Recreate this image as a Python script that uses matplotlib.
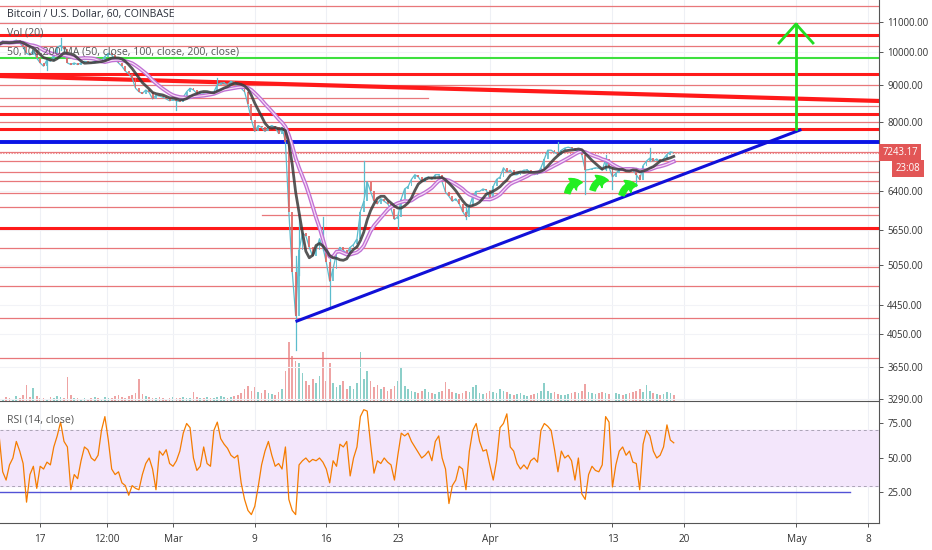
import numpy as np
import pandas as pd
import matplotlib
matplotlib.use("Agg")
import matplotlib.pyplot as plt
from matplotlib.patches import FancyArrowPatch
from matplotlib.ticker import NullLocator
from matplotlib.transforms import blended_transform_factory

plt.rcParams['font.family'] = ['Open Sans', 'DejaVu Sans']

# ---- data: 8-hour bars from Feb 13 00:00, time in days counted from Mar 1 ----
start_day = -17
bar_days = 1 / 3

close = [
    10250, 10350, 10300, 10280, 10330, 10380, 10300, 10150, 9950, 9900, 10050, 9800,
    9650, 9550, 9750, 9700, 9900, 10150, 10200, 10100, 9650, 9600, 9650, 9600,
    9650, 9700, 9680, 9650, 9700, 9680, 9720, 9850, 9950, 9900, 9750, 9650,
    9550, 9400, 9320, 9200, 8900, 8800, 8750, 8850, 8780, 8600, 8700, 8680,
    8650, 8600, 8550, 8580, 8550, 8530, 8650, 8800, 8900, 8850, 8750, 8780,
    8760, 8780, 8760, 8800, 9000, 9050, 9050, 9000, 9100, 9050, 8950, 8900,
    8800, 8450, 8050, 7750, 7900, 7850, 7750, 7850, 7900, 7850, 7700, 7850,
    7500, 6000, 4950, 4300, 5300, 5600, 5550, 5350, 5200, 5300, 5500, 5350,
    5100, 4800, 5000, 5250, 5350, 5300, 5250, 5350, 5400, 5500, 6000, 6200,
    6600, 6400, 6200, 6150, 6250, 6200, 6150, 6050, 5850, 5900, 6250, 6450,
    6500, 6650, 6750, 6700, 6600, 6680, 6700, 6650, 6750, 6750, 6600, 6380,
    6300, 6200, 6250, 6150, 6000, 5900, 6100, 6300, 6400, 6400, 6450, 6420,
    6250, 6500, 6650, 6700, 6900, 6800, 6850, 6750, 6750, 6800, 6850, 6850,
    6800, 6750, 6780, 6900, 7100, 7300, 7300, 7250, 7200, 7300, 7350, 7370,
    7350, 7300, 7300, 7200, 6850, 6860, 6880, 6900, 6890, 6850, 7100, 6910,
    6700, 6780, 6860, 6850, 6900, 6880, 6850, 6750, 6640, 6950, 7050, 7120,
    7050, 7100, 7030, 7100, 7200, 7260, 7243.17,
]

rsi = [
    65, 40, 34, 45, 50, 62, 55, 46, 18, 38, 44, 28, 44, 42, 47, 45, 58, 66, 76, 62,
    58, 27, 38, 35, 48, 58, 56, 50, 48, 52, 70, 80, 63, 42, 38, 40, 32, 30, 23, 30,
    28, 27, 38, 46, 50, 42, 27, 55, 52, 56, 46, 44, 48, 55, 68, 75, 72, 50, 41, 44,
    58, 46, 44, 70, 76, 64, 60, 57, 52, 50, 52, 32, 20, 12, 9, 15, 29, 45, 55, 62,
    52, 44, 46, 42, 58, 20, 12, 9, 45, 48, 50, 47, 49, 48, 50, 47, 42, 32, 48, 44,
    60, 58, 62, 37, 50, 58, 80, 85, 84, 60, 39, 48, 46, 50, 47, 45, 34, 52, 68, 66,
    68, 62, 58, 54, 50, 52, 55, 48, 62, 66, 50, 42, 17, 30, 34, 44, 42, 27, 55, 70,
    75, 62, 55, 56, 45, 34, 48, 72, 75, 82, 58, 55, 46, 42, 45, 42, 48, 50, 47, 70,
    75, 73, 70, 56, 40, 55, 50, 52, 48, 34, 50, 24, 20, 38, 44, 41, 40, 45, 80, 76,
    29, 45, 55, 58, 52, 55, 47, 46, 27, 60, 70, 66, 55, 50, 52, 58, 74, 63, 61,
]

volume = [
    3, 2, 4, 3, 2, 5, 3, 6, 16, 4, 13, 5, 3,
    3, 2, 4, 3, 5, 4, 3, 24,
    6, 3, 3, 2, 3, 2, 3, 4, 3, 2, 4, 3, 3, 5, 6, 4, 3, 5, 6, 8,
    22, 7, 5, 4, 3, 3, 4, 3, 2, 3, 4, 3, 3, 4, 3, 3, 9,
    4, 3, 3, 4, 3, 3, 4, 5, 4, 3, 4, 5, 6,
    8, 12, 15, 10, 14, 9, 8, 11, 8, 7, 6,
    9, 12, 30, 59, 45, 40, 38, 28, 20, 16, 22, 18, 25, 49, 20, 38,
    18, 14, 16, 20, 12, 15, 12, 18, 49, 22,
    30, 20, 14, 16, 12, 14, 10, 12, 15, 20, 34, 15, 12,
    10, 9, 8, 10, 12, 9, 8, 7, 9, 10, 19,
    12, 9, 8, 7, 8, 10, 9, 14, 16, 8, 7, 8, 10, 9,
    8, 12, 10, 9, 7, 6, 7, 8, 6, 5, 6, 7, 8, 10, 18,
    10, 8, 9, 7, 6, 6, 7, 8, 9, 8, 10, 17, 9, 8, 7,
    8, 9, 8, 7, 12, 8, 7, 6, 7, 8, 9, 10, 12, 9, 16, 10, 8, 7, 6, 7, 9, 8, 6,
]

# notable wicks (bar index, low, high)
wick_idx = [14, 18, 52, 64, 87, 88, 95, 97, 107, 117, 137, 164, 172, 178, 180, 187, 191]
wick_low = [9430, 10050, 8300, 9000, 3850, 4900, 5300, 4400, 6300, 5700, 5850, 7250, 6350, 6850, 6450, 6500, 7050]
wick_high = [9750, 10450, 8600, 9200, 5200, 5950, 5900, 5150, 7050, 6000, 6150, 7500, 7200, 7200, 6900, 6900, 7350]

# drawn levels
thin_levels = [11578, 10965, 10187, 8993, 8409, 7989, 7259, 7052, 6809, 6615, 6376,
               6097, 5339, 5025, 4729, 4268, 3750]
thick_levels = [10552, 9315, 8196, 7813, 5684]
green_level = 9803
blue_level = 7494
short_levels = [(8626, -16.93, 25.0), (5934, 8.71, 69.1)]
sloped_line = [(-16.93, 9255), (69.08, 8545)]
trend_line = [(12.13, 4227), (61.35, 7787)]
target_arrow = [(60.96, 7813), (60.96, 10930)]
arrow_wings = [(59.30, 10286), (62.62, 10286)]
hooks = [((38.55, 6306), (40.31, 6573)), ((41.0, 6367), (42.86, 6615)),
         ((43.84, 6266), (45.69, 6511))]
last_price = 7243.17

price_ticks = [11000, 10000, 9000, 8000, 6400, 5650, 5050, 4450, 4050, 3650, 3290]
rsi_ticks = [75, 50, 25]
time_ticks = [-13, -6.5, 0, 8, 15, 22, 31, 43, 50, 61, 68]
time_labels = ['17', '12:00', 'Mar', '9', '16', '23', 'Apr', '13', '20', 'May', '8']

# ---- figure ----
fig = plt.figure(figsize=(9.32, 5.5), dpi=100)
ax = fig.add_axes([0, 0.2709, 0.9431, 0.7291])
rax = fig.add_axes([0, 0.0491, 0.9431, 0.2218])
vax = ax.twinx()

days = start_day + np.arange(len(close)) * bar_days
close_arr = np.array(close, dtype=float)
opens = np.concatenate([[close_arr[0]], close_arr[:-1]])
up = close_arr >= opens
up_c, dn_c = '#5bbccd', '#e0625f'
colors = np.where(up, up_c, dn_c)
vol_colors = np.where(up, '#8ccfc9', '#eea3a3')

xlim = (-16.93, 69.08)

# volume
vax.bar(days, volume, width=bar_days * 0.5, color=vol_colors, linewidth=0)
vax.set_ylim(0, max(volume) * 6.8)
vax.set_yticks([])
for s in vax.spines.values():
    s.set_visible(False)
ax.set_zorder(vax.get_zorder() + 1)
ax.patch.set_visible(False)

ax.set_yscale('log')
ax.set_ylim(3273, 11802)
ax.set_xlim(*xlim)

# grid
for t in time_ticks:
    ax.axvline(t, color='#eef0f5', lw=0.8, zorder=0)
    rax.axvline(t, color='#eef0f5', lw=0.8, zorder=0)
for p in price_ticks:
    ax.axhline(p, color='#f2f3f7', lw=0.8, zorder=0)

# levels
for lv in thin_levels:
    ax.axhline(lv, color='#e8777a', lw=0.9, zorder=1)
for lv in thick_levels:
    ax.axhline(lv, color='#ff1a1a', lw=2.2, zorder=1)
for lv, d0, d1 in short_levels:
    ax.plot([d0, d1], [lv, lv], color='#e8777a', lw=0.9, zorder=1)
ax.axhline(green_level, color='#3ee03e', lw=1.5, zorder=1)
ax.axhline(blue_level, color='#0a14e6', lw=2.8, zorder=1)
ax.axhline(last_price, color='#e8777a', lw=0.8, ls=(0, (1, 1.5)), zorder=1)
ax.plot(*zip(*sloped_line), color='#ff1a1a', lw=3.0, zorder=1)

# candles
ax.plot(days, close_arr, color=up_c, lw=0.9, zorder=2)
for d, lo, hi in zip([days[i] for i in wick_idx], wick_low, wick_high):
    ax.plot([d, d], [lo, hi], color=up_c, lw=0.9, zorder=2)
body_lo = np.minimum(opens, close_arr)
body_h = np.maximum(np.abs(close_arr - opens), close_arr * 0.002)
ax.bar(days, body_h, bottom=body_lo, width=bar_days * 0.55, color=colors,
       alpha=0.85, linewidth=0, zorder=2)

# moving averages
s = pd.Series(close_arr)
ma50 = s.rolling(6, min_periods=1).mean()
ma100 = s.rolling(12, min_periods=1).mean()
ax.plot(days, ma100, color='#c070d4', lw=2.8, zorder=3)
ax.plot(days, ma100, color='#f7dcf6', lw=0.9, zorder=3)
ax.plot(days, ma50, color='#3a3a3a', lw=2.0, alpha=0.85, zorder=3)

# drawings
ax.plot(*zip(*trend_line), color='#1010d8', lw=2.2, zorder=4)
ax.plot(*zip(*target_arrow), color='#22dd22', lw=2.0, zorder=4)
ax.plot([arrow_wings[0][0], target_arrow[1][0], arrow_wings[1][0]],
        [arrow_wings[0][1], target_arrow[1][1], arrow_wings[1][1]],
        color='#22dd22', lw=2.0, zorder=4)
for a, b in hooks:
    ax.add_patch(FancyArrowPatch(a, b, connectionstyle='arc3,rad=-0.55',
                                 arrowstyle='simple,head_width=10,head_length=7,tail_width=4',
                                 color='#22ee22', zorder=5))

# axes styling
ax.yaxis.tick_right()
ax.yaxis.set_minor_locator(NullLocator())
ax.set_yticks(price_ticks)
ax.set_yticklabels([f'{p:.2f}' for p in price_ticks])
ax.tick_params(axis='y', labelsize=6.9, colors='#555555', labelcolor='#333333',
               length=3, pad=3, width=0.7)
ax.set_xticks(time_ticks)
ax.tick_params(axis='x', length=0, labelbottom=False)
for k in ['top', 'left']:
    ax.spines[k].set_visible(False)
ax.spines['right'].set_color('#555555')
ax.spines['bottom'].set_color('#555555')
ax.spines['right'].set_linewidth(0.8)
ax.spines['bottom'].set_linewidth(0.8)

# last price labels
tr = blended_transform_factory(ax.transAxes, ax.transData)
ax.text(1.004, last_price, f'{last_price:.2f}', transform=tr, color='white', fontsize=6.9,
        va='center', ha='left',
        bbox=dict(boxstyle='square,pad=0.35', fc='#e25656', ec='none'), clip_on=False)
ax.annotate('23:08', xy=(1.0, last_price), xycoords=tr, xytext=(12, -11.5),
            textcoords='offset points', color='white', fontsize=6.9, va='center', ha='left',
            bbox=dict(boxstyle='square,pad=0.35', fc='#e25656', ec='none'),
            annotation_clip=False)

ax.text(0.008, 0.9626, 'Bitcoin / U.S. Dollar, 60, COINBASE', transform=ax.transAxes,
        fontsize=7.6, color='#2a2e39', va='center', zorder=6)
ax.text(0.008, 0.9177, 'Vol (20)', transform=ax.transAxes,
        fontsize=7.6, color='#555555', va='center', zorder=6)
ax.text(0.008, 0.870, '50,100,200 MA (50, close, 100, close, 200, close)',
        transform=ax.transAxes, fontsize=7.6, color='#555555', va='center', zorder=6)

# RSI panel
rax.set_xlim(*xlim)
rax.set_ylim(2.9, 91.3)
rax.axhspan(30, 70, color='#f3e6fb', zorder=0)
rax.axhline(70, color='#aaa3b5', lw=0.7, ls=(0, (3, 3)), zorder=1)
rax.axhline(30, color='#aaa3b5', lw=0.7, ls=(0, (3, 3)), zorder=1)
rax.plot([xlim[0], 66.24], [25.5, 25.5], color='#5252d6', lw=1.0, zorder=2)
rax.plot(days, rsi, color='#f57c00', lw=0.9, zorder=3)
rax.yaxis.tick_right()
rax.set_yticks(rsi_ticks)
rax.set_yticklabels([f'{v:.2f}' for v in rsi_ticks])
rax.tick_params(axis='y', labelsize=6.9, colors='#555555', labelcolor='#333333',
                length=3, pad=3, width=0.7)
rax.set_xticks(time_ticks)
rax.set_xticklabels(time_labels)
rax.tick_params(axis='x', labelsize=7.2, colors='#555555', labelcolor='#333333',
                length=3, pad=5, width=0.7)
for k in ['top', 'left']:
    rax.spines[k].set_visible(False)
rax.spines['right'].set_color('#555555')
rax.spines['bottom'].set_color('#555555')
rax.spines['right'].set_linewidth(0.8)
rax.spines['bottom'].set_linewidth(0.8)
rax.text(0.008, 0.844, 'RSI (14, close)', transform=rax.transAxes,
         fontsize=7.6, color='#555555', va='center')

fig.savefig('out.png', dpi=100)
